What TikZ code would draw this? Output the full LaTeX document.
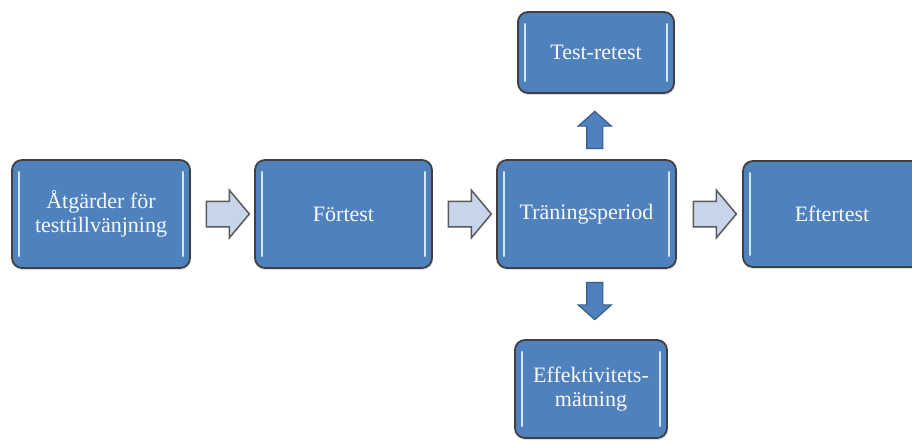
\documentclass[tikz,border=0pt]{standalone}
\usepackage{fontspec}
\setmainfont{Liberation Serif}
\usetikzlibrary{calc,shapes.arrows,shadows}
\definecolor{boxblue}{HTML}{4F81BD}
\definecolor{boxline}{HTML}{404040}
\definecolor{glintc}{HTML}{D2E6FA}
\definecolor{palefill}{HTML}{C8D4EA}
\definecolor{paleline}{HTML}{5A5A5A}
\definecolor{darkline}{HTML}{385D8A}
\tikzset{
  stage/.style={rectangle, rounded corners=10pt, draw=boxline, line width=1.8pt,
    fill=boxblue, text=white!95!gray, align=center, inner sep=0pt,
    font=\fontsize{22}{24}\selectfont,
    drop shadow={opacity=0.25, shadow xshift=1pt, shadow yshift=-2pt}},
  glint/.style={draw=glintc, line width=2.5pt, line cap=round},
  flowarrow/.style={single arrow, draw=paleline, line width=1.5pt, fill=palefill,
    minimum height=43pt, inner xsep=0pt, inner ysep=12pt,
    single arrow head extend=11pt, single arrow tip angle=100},
  sidearrow/.style={single arrow, draw=darkline, line width=1.2pt, fill=boxblue,
    minimum height=37pt, inner xsep=0pt, inner ysep=7.5pt,
    single arrow head extend=8.5pt, single arrow tip angle=97},
}
\newcommand\glints[1]{%
  \draw[glint] ($(#1.north west)+(8,13)$) -- ($(#1.south west)+(8,-13)$);
  \draw[glint] ($(#1.north east)+(-8,13)$) -- ($(#1.south east)+(-8,-13)$);}
\begin{document}
\begin{tikzpicture}[x=1pt,y=-1pt]
  \useasboundingbox[fill=white] (0,0) rectangle (912,441);
  \clip (0,0) rectangle (912,441);

  % main chain of stages
  \node[stage, minimum width=178pt, minimum height=108pt] (atg) at (101,214)
    {Åtgärder för\\testtillvänjning};
  \node[stage, minimum width=177pt, minimum height=108pt] (fore) at (343.5,214) {Förtest};
  \node[stage, minimum width=179pt, minimum height=108pt] (tran) at (586.5,214) {Träningsperiod};
  \node[stage, minimum width=178pt, minimum height=106pt] (efter) at (832,214) {Eftertest};

  % branches above and below the training period
  \node[stage, minimum width=156pt, minimum height=81pt] (retest) at (596,52.5) {Test-retest};
  \node[stage, minimum width=152pt, minimum height=98pt] (effekt) at (591,389)
    {Effektivitets-\\mätning};

  \foreach \n in {atg,fore,tran,efter,retest,effekt} {\glints{\n}}

  % block arrows between the stages
  \node[flowarrow] (a1) at ($(atg.east)!0.5!(fore.west)$) {};
  \node[flowarrow] (a2) at ($(fore.east)!0.5!(tran.west)$) {};
  \node[flowarrow] (a3) at ($(tran.east)!0.5!(efter.west)$) {};
  \coordinate (upc) at ($(retest.south)!0.5!(tran.north)$);
  \coordinate (downc) at ($(tran.south)!0.5!(effekt.north)$);
  \node[sidearrow, rotate=90] (up) at ([xshift=3.5pt, yshift=-7pt]upc) {};
  \node[sidearrow, rotate=-90] (down) at ([xshift=6pt, yshift=6.5pt]downc) {};
\end{tikzpicture}
\end{document}
